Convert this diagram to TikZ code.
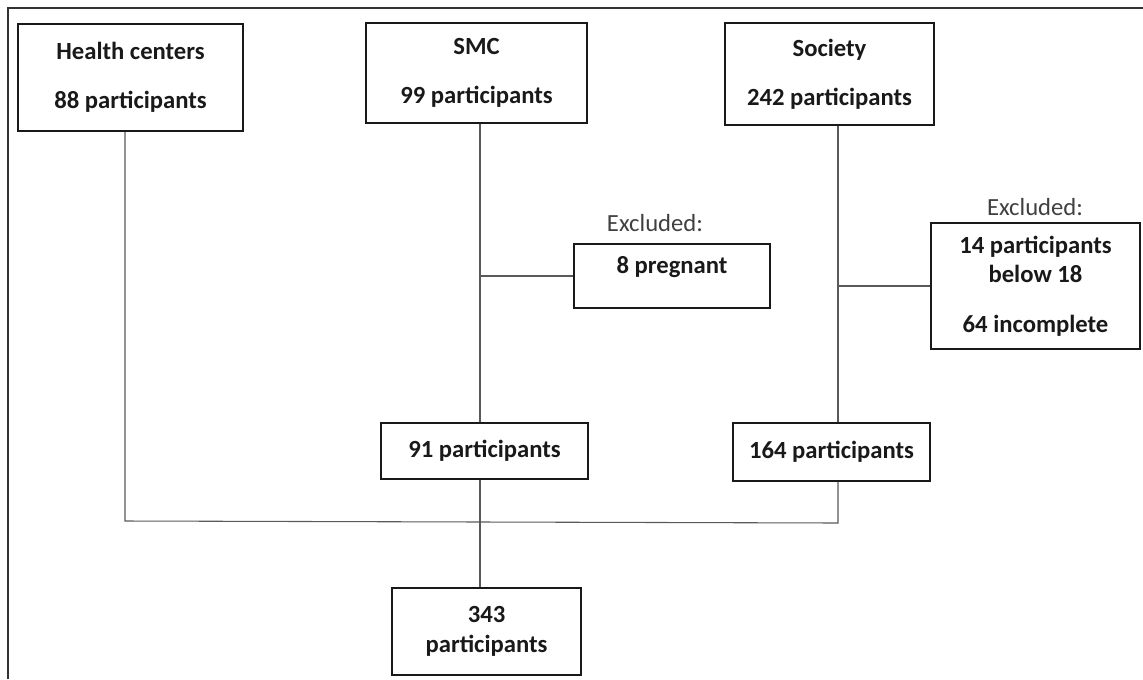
\documentclass[tikz,border=0pt]{standalone}
\usepackage{fontspec}
\setmainfont{Carlito}

\begin{document}
\begin{tikzpicture}[x=0.75pt, y=-0.75pt,
  box/.style={draw=black!90, line width=1.5pt, align=center, inner sep=0pt,
    font=\bfseries\fontsize{18.5}{22}\selectfont, text=black!90},
  link/.style={draw=black!65, line width=0.8pt},
  exlabel/.style={font=\fontsize{18.5}{22}\selectfont, text=black!75}]
\useasboundingbox (0,0) rectangle (1143,679);
\draw[line width=1.2pt, black!80] (8,679) -- (8,8) -- (1143,8);

% sources
\node[box, minimum width=225*0.75pt, minimum height=107*0.75pt] (hc) at (130.5,77.5) {Health centers\\[15pt]88 participants};
\node[box, minimum width=221*0.75pt, minimum height=100*0.75pt] (smc) at (476.5,73) {SMC\\[15pt]99 participants};
\node[box, minimum width=209*0.75pt, minimum height=102*0.75pt] (soc) at (829.5,74) {Society\\[15pt]242 participants};

% exclusions
\node[exlabel] (exclA) at (655,223) {Excluded:};
\node[box, minimum width=196*0.75pt, minimum height=64*0.75pt, text height=13pt, text depth=17pt] (preg) at (672,276) {8 pregnant};
\node[exlabel] (exclB) at (1035,207) {Excluded:};
\node[box, minimum width=209*0.75pt, minimum height=126*0.75pt] (drop) at (1035.5,286) {14 participants\\below 18\\[15pt]64 incomplete};

% after exclusion
\node[box, minimum width=207*0.75pt, minimum height=56*0.75pt] (n91) at (484.5,451) {91 participants};
\node[box, minimum width=197*0.75pt, minimum height=58*0.75pt] (n164) at (831.5,452) {164 participants};
\node[box, minimum width=189*0.75pt, minimum height=87*0.75pt] (total) at (486.5,631.5) {343\\participants};

\coordinate (joinL) at (125,521);
\coordinate (stemM) at (480,522);
\coordinate (joinR) at (838,523);

\draw[link] (hc.south -| joinL) -- (joinL) -- (joinR) -- (n164.south -| joinR);
\draw[link] (soc.south -| joinR) -- (n164.north -| joinR);
\draw[link] (drop.west -| joinR) -- (drop.west);
\draw[link] (smc.south -| stemM) -- (n91.north -| stemM);
\draw[link] (preg.west -| stemM) -- (preg.west);
\draw[link] (n91.south -| stemM) -- (total.north -| stemM);
\end{tikzpicture}
\end{document}
